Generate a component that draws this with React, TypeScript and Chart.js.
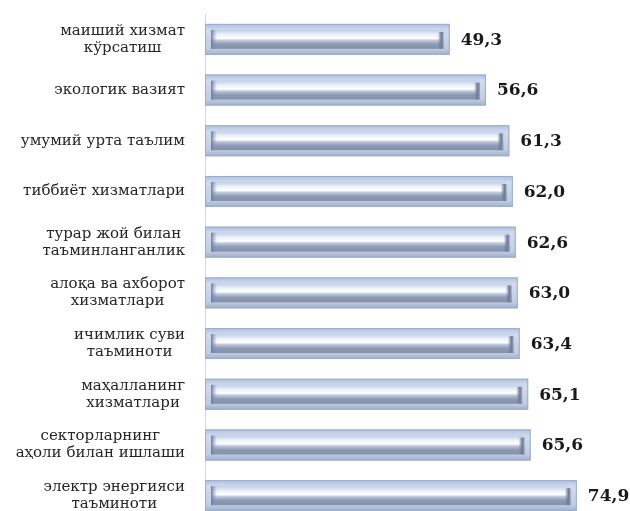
import React, { useEffect, useRef } from "react";
import { Chart, registerables } from "chart.js";

Chart.register(...registerables);

const categories: string[][] = [
  ["маиший хизмат", "кўрсатиш"],
  ["экологик вазият"],
  ["умумий урта таълим"],
  ["тиббиёт хизматлари"],
  ["турар жой билан", "таъминланганлик"],
  ["алоқа ва ахборот", "хизматлари"],
  ["ичимлик суви", "таъминоти"],
  ["маҳалланинг", "хизматлари"],
  ["секторларнинг", "аҳоли билан ишлаши"],
  ["электр энергияси", "таъминоти"],
];

const values: number[] = [49.3, 56.6, 61.3, 62.0, 62.6, 63.0, 63.4, 65.1, 65.6, 74.9];

const valueLabels: string[] = ["49,3", "56,6", "61,3", "62,0", "62,6", "63,0", "63,4", "65,1", "65,6", "74,9"];

const LABEL_FONT = "15px 'DejaVu Serif', 'Liberation Serif', serif";
const VALUE_FONT = "bold 17px 'DejaVu Serif', 'Liberation Serif', serif";

const categoryLabelsPlugin = {
  id: "categoryLabels",
  afterDraw(chart: any) {
    const { ctx } = chart;
    const yScale = chart.scales.y;
    const rightEdge = chart.chartArea.left - 20;
    const lineH = 17;
    ctx.save();
    ctx.font = LABEL_FONT;
    ctx.fillStyle = "#262626";
    ctx.textBaseline = "middle";
    ctx.textAlign = "center";
    categories.forEach((lines, i) => {
      const cy = yScale.getPixelForTick(i);
      const blockW = Math.max(...lines.map((l) => ctx.measureText(l).width));
      const cx = rightEdge - blockW / 2;
      const startY = cy - ((lines.length - 1) * lineH) / 2;
      lines.forEach((l, j) => ctx.fillText(l, cx, startY + j * lineH));
    });
    ctx.restore();
  },
};

const barStylePlugin = {
  id: "barStyle",
  afterDatasetsDraw(chart: any) {
    const { ctx } = chart;
    const meta = chart.getDatasetMeta(0);
    ctx.save();
    meta.data.forEach((el: any, i: number) => {
      const { x, y, base, height } = el.getProps(["x", "y", "base", "height"], true);
      const top = y - height / 2;
      const bot = y + height / 2;
      const left = Math.min(base, x);
      const right = Math.max(base, x);
      const w = right - left;

      // outer frame
      const g = ctx.createLinearGradient(0, top, 0, bot);
      g.addColorStop(0, "#afbfdb");
      g.addColorStop(0.2, "#d0dbee");
      g.addColorStop(0.8, "#c0cce2");
      g.addColorStop(1, "#a0afcb");
      ctx.fillStyle = g;
      ctx.fillRect(left, top, w, height);
      ctx.strokeStyle = "#9badd0";
      ctx.lineWidth = 1;
      ctx.strokeRect(left + 0.5, top + 0.5, w - 1, height - 1);

      // inner channel
      const inset = 6;
      const it = top + inset;
      const ib = bot - inset;
      const il = left + inset;
      const ir = right - inset;
      const g2 = ctx.createLinearGradient(0, it, 0, ib);
      g2.addColorStop(0, "#c1cee6");
      g2.addColorStop(0.25, "#ecf2fb");
      g2.addColorStop(0.45, "#ffffff");
      g2.addColorStop(0.55, "#c0cadc");
      g2.addColorStop(0.75, "#8d9ab3");
      g2.addColorStop(1, "#8290aa");
      ctx.fillStyle = g2;
      ctx.fillRect(il, it, ir - il, ib - it);

      // left bevel
      const g3 = ctx.createLinearGradient(il, 0, il + 6, 0);
      g3.addColorStop(0, "#687ca4");
      g3.addColorStop(1, "rgba(140,160,200,0)");
      ctx.fillStyle = g3;
      ctx.fillRect(il, it, 6, ib - it);

      // right end mark
      const g4 = ctx.createLinearGradient(ir - 6, 0, ir, 0);
      g4.addColorStop(0, "rgba(110,125,150,0)");
      g4.addColorStop(0.6, "#6d7b95");
      g4.addColorStop(1, "#98a6c0");
      ctx.fillStyle = g4;
      ctx.fillRect(ir - 6, it + 2, 6, ib - it - 2);

      // value label
      ctx.font = VALUE_FONT;
      ctx.fillStyle = "#1a1a1a";
      ctx.textAlign = "left";
      ctx.textBaseline = "middle";
      ctx.fillText(valueLabels[i], right + 11, y + 1);
    });
    ctx.restore();
  },
};

export default function App() {
  const canvasRef = useRef<HTMLCanvasElement | null>(null);

  useEffect(() => {
    if (!canvasRef.current) return;
    const chart = new Chart(canvasRef.current, {
      type: "bar",
      data: {
        labels: categories,
        datasets: [
          {
            data: values,
            backgroundColor: "#c3cee2",
            borderWidth: 0,
            categoryPercentage: 1,
            barPercentage: 0.61,
          },
        ],
      },
      options: {
        indexAxis: "y",
        responsive: false,
        animation: false,
        devicePixelRatio: 1,
        layout: { padding: { top: 14, bottom: 4, left: 0, right: 8 } },
        plugins: {
          legend: { display: false },
          tooltip: { enabled: false },
        },
        scales: {
          x: {
            min: 0,
            max: 84,
            display: false,
          },
          y: {
            grid: { display: false },
            ticks: { display: false },
            border: { display: true, color: "#d3d7de", width: 1 },
            afterFit: (scale: any) => {
              scale.width = 205;
            },
          },
        },
      },
      plugins: [barStylePlugin, categoryLabelsPlugin],
    });
    return () => chart.destroy();
  }, []);

  return (
    <div style={{ position: "absolute", left: 0, top: 0, width: 630, height: 525, background: "#ffffff" }}>
      <canvas ref={canvasRef} width={630} height={525} style={{ display: "block" }} />
    </div>
  );
}
